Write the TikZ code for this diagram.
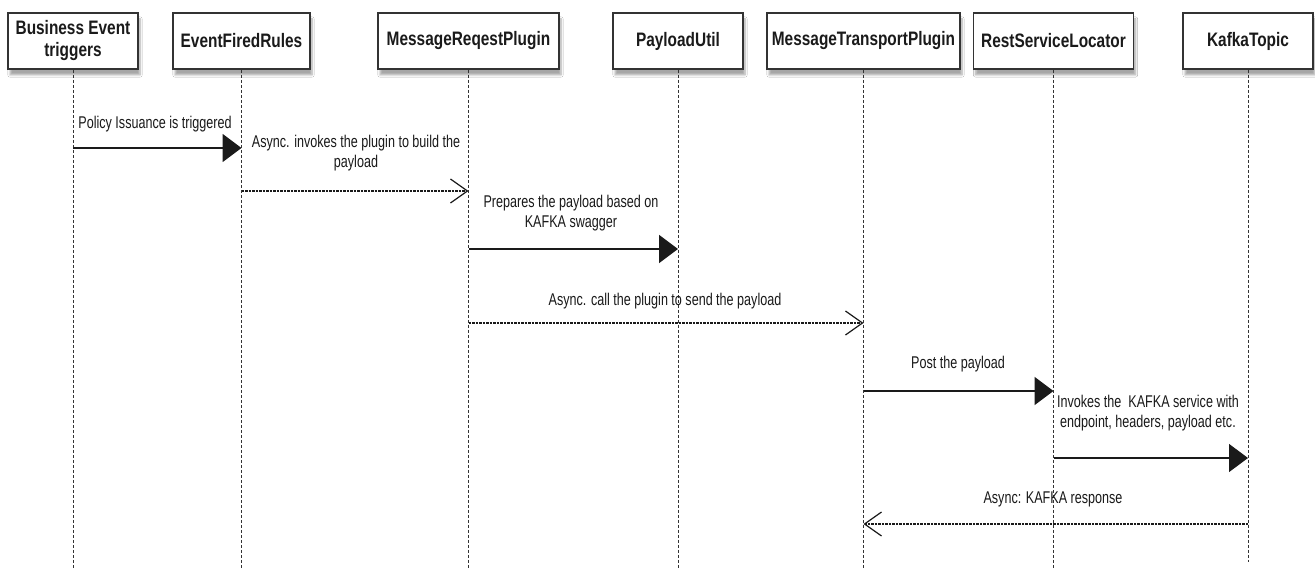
\documentclass[tikz,border=0pt]{standalone}
\usepackage{fontspec}
\setmainfont{Liberation Sans}
\newfontfamily\lblfont{Liberation Sans}[FakeStretch=0.74]
\newfontfamily\boxfont{Liberation Sans}[FakeStretch=0.79]
\usetikzlibrary{arrows.meta,shadows.blur}
\definecolor{ink}{HTML}{1A1A1A}
\definecolor{boxline}{HTML}{333333}
\tikzset{
  actor/.style={draw=boxline,line width=1.6pt,fill=white,minimum height=56pt,
    inner sep=0pt,align=center,font=\boxfont\bfseries\fontsize{19.5}{22}\selectfont,text=ink,
    blur shadow={shadow xshift=2pt,shadow yshift=-6pt,shadow opacity=35,shadow blur steps=6}},
  lifeline/.style={draw=boxline,line width=1pt,dash pattern=on 3pt off 2pt},
  syncmsg/.style={draw=ink,line width=1.6pt,-{Triangle[length=19pt,width=28pt]}},
  asyncmsg/.style={draw=ink,line width=1.6pt,dash pattern=on 2.5pt off 1pt,
    -{Straight Barb[length=17pt,width=24pt,line width=1.2pt]}},
  lbl/.style={font=\lblfont\fontsize{17}{19.5}\selectfont,text=ink,align=center,inner sep=0pt}
}
\begin{document}
\begin{tikzpicture}[x=1pt,y=-1pt]
\useasboundingbox[fill=white] (0,0) rectangle (1315,575);
% actors
\node[actor,minimum width=130pt] (b1) at (73,41) {Business Event\\triggers};
\node[actor,minimum width=137pt] (b2) at (241.5,41) {EventFiredRules};
\node[actor,minimum width=181pt] (b3) at (468.5,41) {MessageReqestPlugin};
\node[actor,minimum width=130pt] (b4) at (678,41) {PayloadUtil};
\node[actor,minimum width=193pt] (b5) at (863.5,41) {MessageTransportPlugin};
\node[actor,minimum width=160pt] (b6) at (1053.5,41) {RestServiceLocator};
\node[actor,minimum width=130pt] (b7) at (1248,41) {KafkaTopic};
% lifeline ends
\coordinate (bot) at (0,568);
\coordinate (botk) at (0,562);
\foreach \b in {b1,b2,b3,b4,b5,b6} \draw[lifeline] (\b.south) -- (\b |- bot);
\draw[lifeline] (b7.south) -- (b7 |- botk);
% message rows
\coordinate (r1) at (0,148);
\coordinate (r2) at (0,191);
\coordinate (r3) at (0,249);
\coordinate (r4) at (0,323);
\coordinate (r5) at (0,391);
\coordinate (r6) at (0,458);
\coordinate (r7) at (0,524);
\draw[syncmsg] (b1 |- r1) -- (b2 |- r1);
\draw[asyncmsg] (b2 |- r2) -- (b3 |- r2);
\draw[syncmsg] (b3 |- r3) -- (b4 |- r3);
\draw[asyncmsg] (b3 |- r4) -- (b5 |- r4);
\draw[syncmsg] (b5 |- r5) -- (b6 |- r5);
\draw[syncmsg,line width=1.3pt] (b6 |- r6) -- (b7 |- r6);
\draw[asyncmsg] (b7 |- r7) -- (b5 |- r7);
% labels
\node[lbl] (t1) at (155,124) {Policy Issuance is triggered};
\node[lbl] (t2) at (356,153) {Async. invokes the plugin to build the\\payload};
\node[lbl] (t3) at (571,213) {Prepares the payload based on\\KAFKA swagger};
\node[lbl] (t4) at (665,301) {Async. call the plugin to send the payload};
\node[lbl] (t5) at (958,364) {Post the payload};
\node[lbl] (t6) at (1148,413) {Invokes the\ \ KAFKA service with\\endpoint, headers, payload etc.};
\node[lbl] (t7) at (1053,499) {Async: KAFKA response};
\end{tikzpicture}
\end{document}
